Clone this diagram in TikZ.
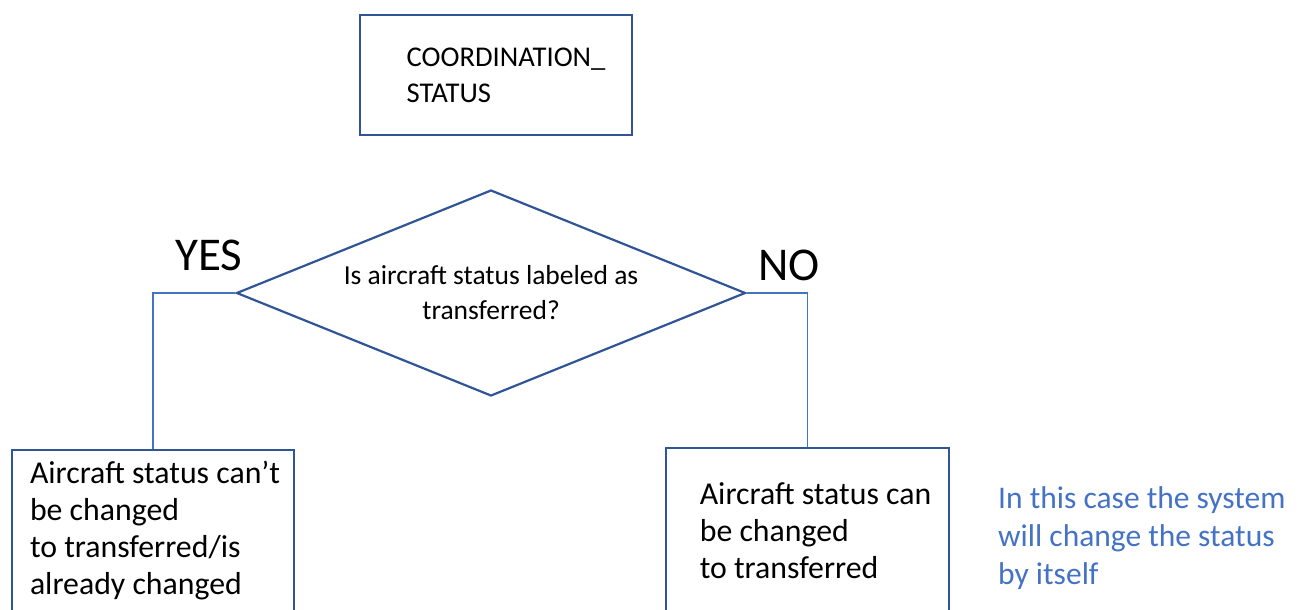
\documentclass[tikz,border=0pt]{standalone}
\usepackage{fontspec}
\setmainfont{Carlito}
\usetikzlibrary{shapes.geometric}
\definecolor{boxblue}{HTML}{2F5597}
\definecolor{lineblue}{HTML}{4472C4}
\begin{document}
\begin{tikzpicture}
[   x=1pt, y=-1pt,
    box/.style={draw=boxblue, line width=2pt, rectangle, align=left, inner sep=0pt,
        font=\fontsize{31.8}{37}\selectfont},
    link/.style={lineblue, line width=1.2pt},
]
\useasboundingbox (0,0) rectangle (1301,610);
\clip (0,0) rectangle (1301,610);

\node[box, minimum width=272, minimum height=120, font=\fontsize{28.6}{36}\selectfont] (S) at (496,75) {\hspace*{20pt}COORDINATION\_\\\hspace*{20pt}STATUS};
\node[draw=boxblue, line width=2.2pt, diamond, aspect=2.47, inner sep=0pt, minimum width=509, minimum height=206,
    align=center, font=\fontsize{27.5}{35}\selectfont] (Q) at (491,293) {Is aircraft status labeled as\\transferred?};

\node[box, minimum width=282, minimum height=162] (L) at (153,531) {\hspace*{4pt}Aircraft status can’t\\\hspace*{4pt}be changed\\\hspace*{4pt}to transferred/is\\\hspace*{4pt}already changed};
\node[box, minimum width=283, minimum height=166] (R) at (807.5,531) {\hspace*{16pt}Aircraft status can\\\hspace*{16pt}be changed\\\hspace*{16pt}to transferred};

\node[font=\fontsize{47}{50}\selectfont] (yes) at (209,255) {YES};
\node[font=\fontsize{47}{50}\selectfont] (no) at (789,265) {NO};
\node[anchor=west, align=left, text=lineblue, inner sep=0pt, font=\fontsize{31.5}{38}\selectfont] (note) at (998,538) {In this case the system\\will change the status\\by itself};

\draw[link] (Q.west) -| (L.north);
\draw[link] (Q.east) -| (R.north);

\end{tikzpicture}
\end{document}
